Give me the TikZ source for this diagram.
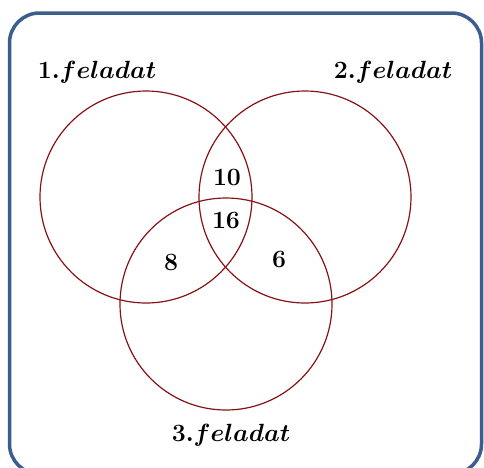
\documentclass[tikz,border=0pt]{standalone}
\usepackage{amsmath}
\definecolor{framecol}{RGB}{60,94,142}
\definecolor{circcol}{RGB}{135,18,22}
\tikzset{
  venn/.style={draw=circcol, line width=1.2pt},
  lbl/.style={font=\fontsize{25}{29}\selectfont\boldmath, inner sep=0pt},
}
\begin{document}
\begin{tikzpicture}[x=1pt,y=-1pt]
\useasboundingbox (0,0) rectangle (484,467);
\draw[framecol, line width=3.5pt, rounded corners=30pt] (9.5,13) rectangle (481.5,474);
\node[venn, circle, minimum size=212pt, inner sep=0pt] (c1) at (146,197) {};
\node[venn, circle, minimum size=212pt, inner sep=0pt] (c2) at (305,197) {};
\node[venn, circle, minimum size=212pt, inner sep=0pt] (c3) at (226,304) {};
\node[lbl] (l1) at (97,72) {$1.feladat$};
\node[lbl] (l2) at (393,72) {$2.feladat$};
\node[lbl] (l3) at (231,435) {$3.feladat$};
\node[lbl] (n10) at (227,177) {$10$};
\node[lbl] (n16) at (226,220) {$16$};
\node[lbl] (n8) at (171,262) {$8$};
\node[lbl] (n6) at (279,259) {$6$};
\end{tikzpicture}
\end{document}
